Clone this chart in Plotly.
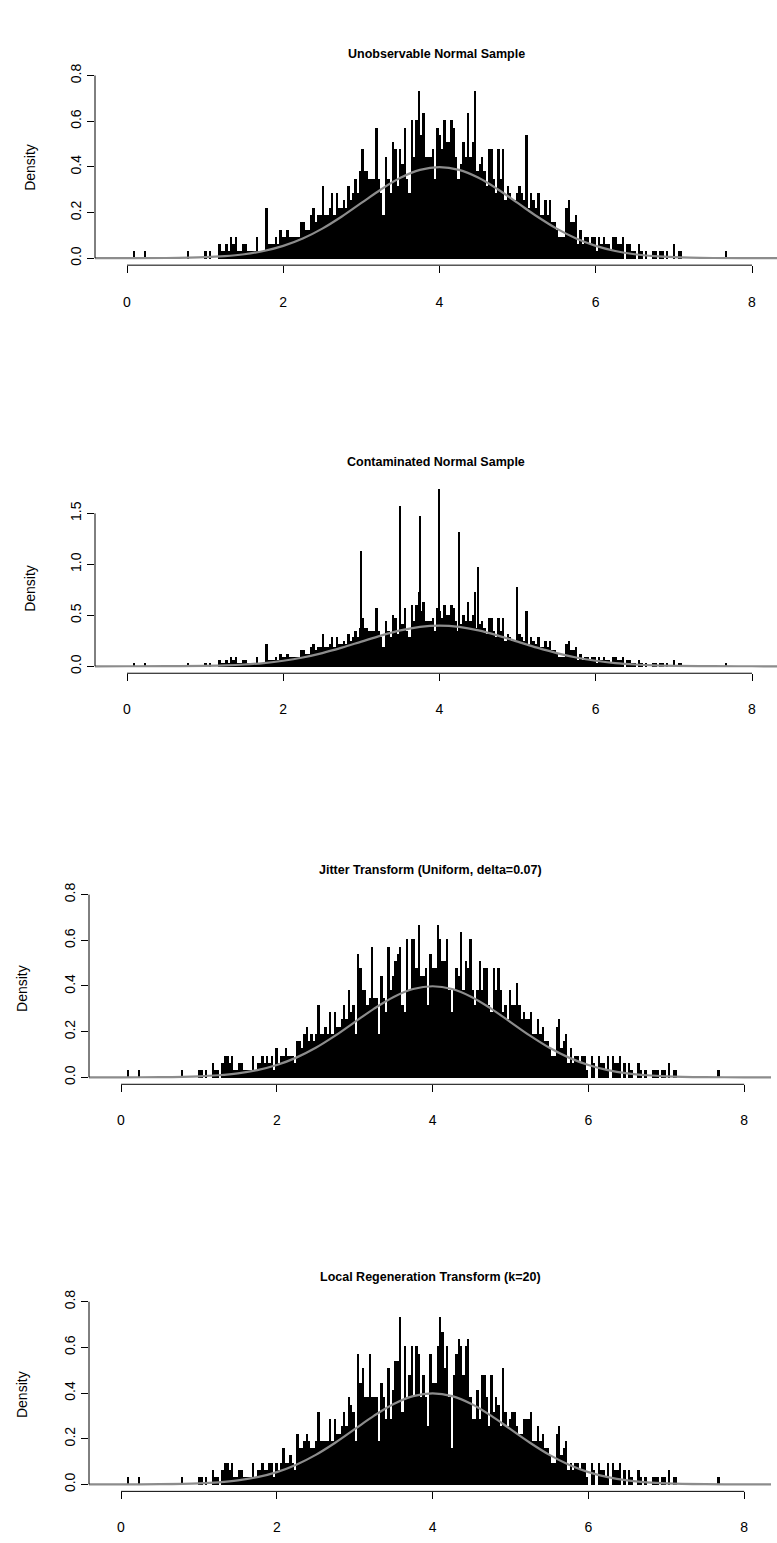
import plotly.graph_objects as go

W, H = 777, 1543

# ---------------- data ----------------
BIN_START = 0.99          # left edge of first bin
BIN_WIDTH = 0.03          # histogram bin width
DENSITY_PER_COUNT = 0.0319  # density height of one observation

counts_unobservable = [
    1, 0, 1, 0, 0, 0, 2, 1, 1, 2,
    1, 3, 2, 3, 1, 1, 2, 2, 1, 1,
    1, 1, 3, 1, 1, 1, 7, 2, 2, 2,
    3, 2, 4, 3, 3, 4, 3, 3, 3, 3,
    3, 5, 5, 4, 4, 6, 7, 5, 6, 6,
    10, 6, 6, 7, 9, 6, 9, 7, 7, 8,
    7, 10, 8, 9, 11, 9, 12, 15, 12, 12,
    11, 11, 11, 18, 11, 9, 6, 14, 11, 9,
    16, 15, 10, 15, 13, 18, 11, 9, 19, 14,
    19, 23, 17, 20, 14, 14, 14, 15, 11, 18,
    17, 15, 19, 16, 16, 19, 18, 14, 11, 13,
    16, 14, 20, 14, 16, 23, 12, 13, 14, 12,
    10, 15, 15, 11, 9, 15, 11, 15, 8, 10,
    9, 8, 8, 9, 10, 9, 8, 17, 7, 9,
    8, 7, 9, 6, 6, 8, 6, 8, 5, 5,
    4, 3, 3, 3, 7, 8, 5, 5, 6, 2,
    4, 2, 3, 3, 2, 3, 3, 1, 3, 2,
    3, 2, 2, 1, 3, 3, 2, 2, 3, 0,
    2, 2, 1, 1, 0, 2, 1, 0, 1, 0,
    0, 1, 1, 0, 1, 1, 0, 1, 0, 0,
    2, 0, 1, 1, 0,
]

# contaminated sample: same background plus spikes at rounded values
counts_contaminated = list(counts_unobservable)
spike_x = [3.0, 3.5, 3.75, 4.0, 4.25, 4.5, 5.0]
spike_density = [1.13, 1.58, 1.48, 1.74, 1.32, 0.98, 0.78]

counts_jitter = [
    1, 1, 0, 1, 0, 0, 2, 1, 1, 0,
    2, 3, 3, 2, 3, 1, 1, 2, 2, 1,
    1, 1, 1, 3, 1, 2, 2, 3, 2, 3,
    2, 3, 1, 4, 2, 3, 3, 4, 3, 3,
    3, 2, 5, 5, 4, 6, 7, 5, 6, 5,
    6, 10, 6, 6, 7, 6, 9, 6, 9, 7,
    7, 8, 10, 8, 12, 9, 10, 6, 17, 15,
    12, 12, 10, 11, 18, 11, 11, 6, 14, 11,
    9, 18, 12, 14, 16, 17, 18, 10, 9, 19,
    12, 19, 19, 15, 21, 14, 14, 15, 10, 17,
    15, 15, 21, 19, 16, 16, 19, 12, 9, 12,
    15, 14, 20, 12, 16, 15, 19, 12, 10, 12,
    16, 12, 15, 15, 10, 9, 15, 12, 15, 12,
    9, 10, 8, 12, 10, 10, 13, 10, 8, 9,
    8, 8, 9, 6, 6, 8, 6, 7, 5, 5,
    4, 3, 3, 7, 8, 4, 5, 6, 2, 4,
    2, 3, 3, 2, 3, 3, 1, 0, 3, 2,
    0, 3, 2, 2, 1, 3, 0, 3, 2, 2,
    3, 0, 2, 0, 2, 1, 0, 0, 2, 1,
    0, 1, 0, 0, 1, 1, 1, 0, 1, 1,
    0, 2, 0, 1, 1,
]

counts_regeneration = [
    1, 1, 0, 1, 0, 0, 2, 1, 1, 0,
    2, 3, 3, 2, 3, 1, 1, 2, 2, 1,
    1, 1, 1, 3, 1, 2, 2, 3, 2, 2,
    3, 3, 1, 3, 2, 3, 5, 3, 3, 4,
    3, 2, 7, 5, 5, 6, 7, 6, 5, 5,
    6, 10, 6, 6, 6, 6, 9, 6, 9, 7,
    7, 8, 10, 8, 12, 11, 10, 6, 18, 14,
    16, 12, 12, 18, 12, 12, 12, 6, 14, 12,
    9, 16, 9, 13, 17, 17, 23, 10, 19, 12,
    15, 19, 12, 19, 18, 12, 15, 12, 8, 18,
    14, 14, 19, 23, 21, 16, 19, 12, 5, 15,
    18, 20, 19, 15, 19, 20, 12, 9, 9, 13,
    9, 15, 15, 12, 8, 15, 10, 12, 11, 8,
    16, 10, 8, 9, 10, 10, 8, 7, 7, 9,
    9, 9, 10, 6, 6, 8, 6, 7, 5, 5,
    4, 3, 3, 7, 8, 4, 5, 6, 2, 3,
    2, 3, 3, 2, 3, 3, 1, 0, 3, 2,
    0, 3, 2, 2, 1, 3, 0, 3, 2, 2,
    3, 0, 2, 0, 2, 1, 0, 0, 2, 1,
    0, 1, 0, 0, 1, 1, 1, 0, 1, 1,
    0, 2, 0, 1, 1,
]

outlier_x = [0.09, 0.23, 0.78, 7.67]
outlier_count = [1, 1, 1, 1]

# theoretical N(4,1) density curve
curve_x = [-0.5, 0.0, 0.5, 1.0, 1.25, 1.5, 1.75, 2.0, 2.25, 2.5, 2.75, 3.0, 3.25,
           3.5, 3.75, 4.0, 4.25, 4.5, 4.75, 5.0, 5.25, 5.5, 5.75, 6.0, 6.25,
           6.5, 6.75, 7.0, 7.5, 8.0, 8.5]
curve_y = [0.0, 0.0001, 0.0009, 0.0044, 0.0091, 0.0175, 0.0317, 0.054, 0.0863,
           0.1295, 0.1826, 0.242, 0.3011, 0.3521, 0.3867, 0.3989, 0.3867, 0.3521,
           0.3011, 0.242, 0.1826, 0.1295, 0.0863, 0.054, 0.0317, 0.0175, 0.0091,
           0.0044, 0.0009, 0.0001, 0.0]

titles = ["Unobservable Normal Sample",
          "Contaminated Normal Sample",
          "Jitter Transform (Uniform, delta=0.07)",
          "Local Regeneration Transform (k=20)"]
x_ticks = [0, 2, 4, 6, 8]
y_ticks_small = [0.0, 0.2, 0.4, 0.6, 0.8]
y_ticks_large = [0.0, 0.5, 1.0, 1.5]

# ---------------- layout geometry (pixels) ----------------
panels = [
    dict(counts=counts_unobservable, left=95, right=777, top=64, bottom=257,
         zero=250, ys=230.0, xzero=127, xs=78.125, ty=44, ly=159, lx=30, yt=y_ticks_small),
    dict(counts=counts_contaminated, left=95, right=777, top=475, bottom=668,
         zero=661, ys=102.67, xzero=127, xs=78.125, ty=455, ly=583, lx=30, yt=y_ticks_large),
    dict(counts=counts_jitter, left=89, right=771, top=883, bottom=1082,
         zero=1075, ys=230.0, xzero=121, xs=77.9, ty=866, ly=986, lx=22, yt=y_ticks_small),
    dict(counts=counts_regeneration, left=89, right=771, top=1293, bottom=1492,
         zero=1485, ys=230.0, xzero=121, xs=77.9, ty=1276, ly=1395, lx=22, yt=y_ticks_small),
]

FONT = "Liberation Sans, Arial, Helvetica, sans-serif"
fig = go.Figure()
layout = dict(width=W, height=H, margin=dict(l=0, r=0, t=0, b=0),
              paper_bgcolor="white", plot_bgcolor="white", showlegend=False,
              bargap=0, barmode="overlay", font=dict(family=FONT, size=14, color="black"))
shapes, annotations = [], []

for k, p in enumerate(panels, start=1):
    xa = "x" if k == 1 else f"x{k}"
    ya = "y" if k == 1 else f"y{k}"
    counts = p["counts"]
    bx = [BIN_START + BIN_WIDTH * (i + 0.5) for i in range(len(counts))]
    by = [c * DENSITY_PER_COUNT for c in counts]
    bx += outlier_x
    by += [c * DENSITY_PER_COUNT for c in outlier_count]
    fig.add_trace(go.Bar(x=bx, y=by, width=BIN_WIDTH, marker=dict(color="black", line=dict(width=0)),
                         xaxis=xa, yaxis=ya, hoverinfo="skip"))
    if k == 2:
        fig.add_trace(go.Bar(x=spike_x, y=spike_density, width=0.02,
                             marker=dict(color="black", line=dict(width=0)),
                             xaxis=xa, yaxis=ya, hoverinfo="skip"))
    fig.add_trace(go.Scatter(x=curve_x, y=curve_y, mode="lines",
                             line=dict(color="#8c8c8c", width=2.2, shape="spline"),
                             xaxis=xa, yaxis=ya, hoverinfo="skip"))

    xr = [(p["left"] - p["xzero"]) / p["xs"], (p["right"] - p["xzero"]) / p["xs"]]
    yr = [-(p["bottom"] - p["zero"]) / p["ys"], (p["zero"] - p["top"]) / p["ys"]]
    xkey = "xaxis" if k == 1 else f"xaxis{k}"
    ykey = "yaxis" if k == 1 else f"yaxis{k}"
    layout[xkey] = dict(domain=[p["left"] / W, p["right"] / W], range=xr, anchor=ya,
                        tickvals=x_ticks, ticktext=[str(v) for v in x_ticks],
                        ticks="outside", ticklen=7, tickwidth=1, tickcolor="black",
                        ticklabelstandoff=17 if k == 1 else 16,
                        showline=False, showgrid=False, zeroline=False,
                        tickfont=dict(family=FONT, size=14, color="black"))
    yt = p["yt"]
    layout[ykey] = dict(domain=[1 - p["bottom"] / H, 1 - p["top"] / H], range=yr, anchor=xa,
                        tickvals=yt, ticktext=[f"{v:.1f}" for v in yt], tickangle=-90,
                        ticks="outside", ticklen=7, tickwidth=1, tickcolor="black",
                        showline=False, showgrid=False, zeroline=False,
                        tickfont=dict(family=FONT, size=14, color="black"))
    shapes.append(dict(type="line", xref=xa, yref=f"{ya} domain", x0=x_ticks[0], x1=x_ticks[-1],
                       y0=0, y1=0, line=dict(color="black", width=1)))
    shapes.append(dict(type="line", xref=f"{xa} domain", yref=ya, x0=0, x1=0,
                       y0=yt[0], y1=yt[-1], line=dict(color="black", width=1)))
    annotations.append(dict(text=f"<b>{titles[k-1]}</b>", xref="paper", yref="paper",
                            x=(p["left"] + p["right"]) / 2 / W, y=1 - p["ty"] / H,
                            xanchor="center", yanchor="middle", showarrow=False,
                            font=dict(family=FONT, size=12.5, color="black")))
    annotations.append(dict(text="Density", xref="paper", yref="paper",
                            x=p["lx"] / W, y=1 - p["ly"] / H,
                            xanchor="center", yanchor="middle", showarrow=False, textangle=-90,
                            font=dict(family=FONT, size=14, color="black")))

layout["shapes"] = shapes
layout["annotations"] = annotations
fig.update_layout(**layout)
fig.write_html("out.html")
